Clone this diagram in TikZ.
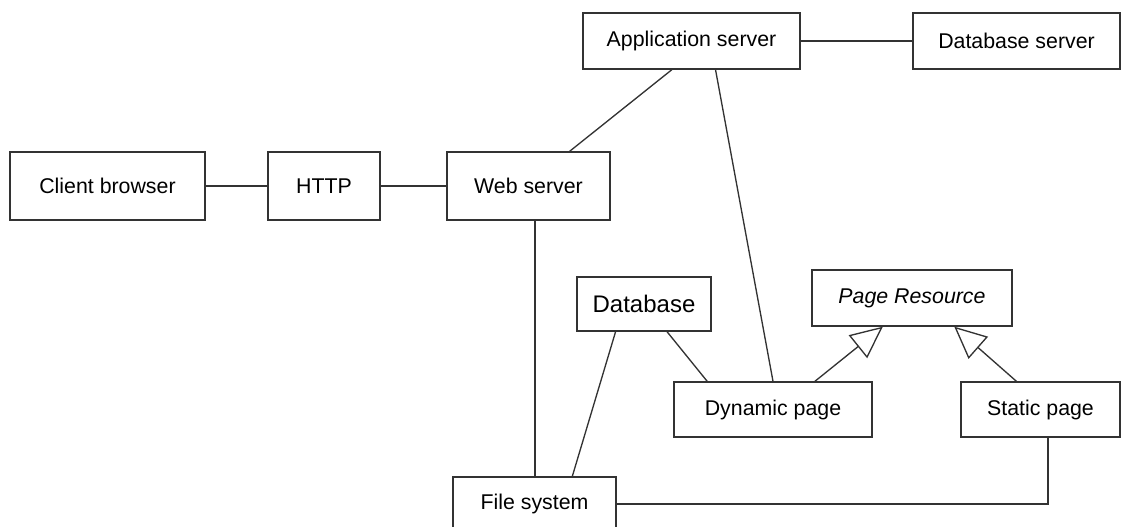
\documentclass[tikz,border=0pt]{standalone}
\usepackage{fontspec}
\setmainfont{Liberation Sans}
\usetikzlibrary{arrows.meta,calc}

\tikzset{
  box/.style={draw=black!80, line width=1pt, rectangle, inner sep=0pt,
    font=\fontsize{16}{19}\selectfont},
  link/.style={draw=black!80, line width=1pt},
  inherit/.style={link, -{Triangle[open, fill=white, length=24pt, width=22pt, line width=1pt]}},
}

\begin{document}
\begin{tikzpicture}[x=0.75pt, y=-0.75pt]
  \useasboundingbox (0,0) rectangle (1130,526);
  \clip (0,0) rectangle (1130,526);

  % boxes (centre, width, height in pixel units)
  \node[box, minimum width=146.25pt, minimum height=51pt] (client) at (107.5,186) {Client browser};
  \node[box, minimum width=84pt,     minimum height=51pt] (http)   at (324,186)   {HTTP};
  \node[box, minimum width=122.25pt, minimum height=51pt] (web)    at (528.5,186) {Web server};
  \node[box, minimum width=162.75pt, minimum height=42pt] (app)    at (691.5,41)  {Application server};
  \node[box, minimum width=155.25pt, minimum height=42pt] (dbsrv)  at (1016.5,41) {Database server};
  \node[box, minimum width=100.5pt,  minimum height=40.5pt, font=\fontsize{18}{21}\selectfont] (db) at (644,304) {Database};
  \node[box, minimum width=150pt,    minimum height=42pt, font=\fontsize{16}{19}\selectfont\itshape] (res) at (912,298) {Page Resource};
  \node[box, minimum width=148.5pt,  minimum height=41.25pt] (dyn)    at (773,409.5) {Dynamic page};
  \node[box, minimum width=119.25pt, minimum height=41.25pt] (stat)   at (1040.5,409.5) {Static page};
  \node[box, minimum width=122.25pt, minimum height=40.5pt] (fs)     at (534.5,504) {File system};

  % plain associations
  \draw[link] (client.east) -- (http.west);
  \draw[link] (http.east) -- (web.west);
  \draw[link] (app.east) -- (dbsrv.west);
  \draw[link] ($(app.south west)!0.41!(app.south east)$) -- ($(web.north west)!0.75!(web.north east)$);
  \draw[link] ($(app.south west)!0.61!(app.south east)$) -- (dyn.north);
  \coordinate (wsdown) at ($(web.south west)!0.54!(web.south east)$);
  \draw[link] (wsdown) -- (wsdown |- fs.north);
  \draw[link] ($(db.south west)!0.29!(db.south east)$) -- ($(fs.north west)!0.73!(fs.north east)$);
  \draw[link] ($(db.south west)!0.67!(db.south east)$) -- ($(dyn.north west)!0.17!(dyn.north east)$);
  \coordinate (stdown) at ($(stat.south west)!0.547!(stat.south east)$);
  \draw[link] (fs.east) -- (fs.east -| stdown) -- (stdown);

  % generalisations
  \draw[inherit] ($(dyn.north west)!0.71!(dyn.north east)$) -- ($(res.south west)!0.355!(res.south east)$);
  \draw[inherit] ($(stat.north west)!0.35!(stat.north east)$) -- ($(res.south west)!0.71!(res.south east)$);
\end{tikzpicture}
\end{document}
